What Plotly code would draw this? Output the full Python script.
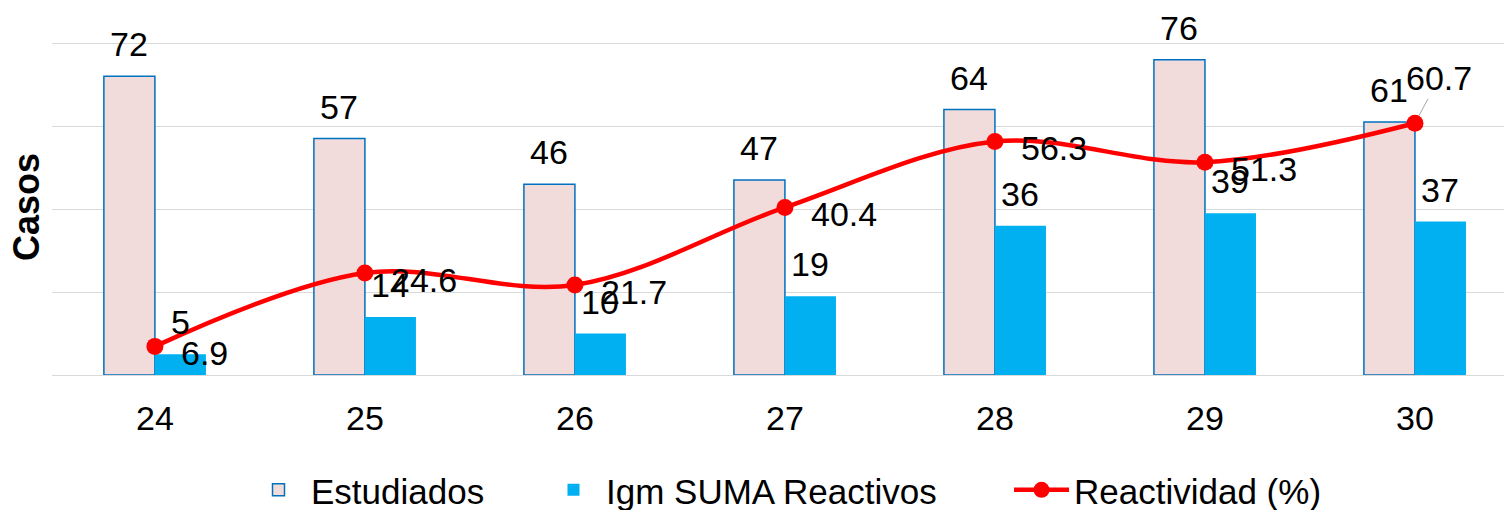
import plotly.graph_objects as go

semanas = ["24", "25", "26", "27", "28", "29", "30"]
estudiados = [72, 57, 46, 47, 64, 76, 61]
igm_reactivos = [5, 14, 10, 19, 36, 39, 37]
reactividad = [6.9, 24.6, 21.7, 40.4, 56.3, 51.3, 60.7]

FONT = "Liberation Sans, Arial, sans-serif"
FS = 34
W, H = 1504, 510

fig = go.Figure()

fig.add_trace(go.Bar(
    x=semanas, y=estudiados, name="Estudiados", legend="legend",
    marker=dict(color="#F2DCDB", line=dict(color="#0070C0", width=1.5)),
))
fig.add_trace(go.Bar(
    x=semanas, y=igm_reactivos, name="Igm SUMA Reactivos", legend="legend2",
    marker=dict(color="#00B0F0", line=dict(color="#00B0F0", width=0)),
))
fig.add_trace(go.Scatter(
    x=semanas, y=reactividad, name="Reactividad (%)", yaxis="y2", legend="legend3",
    mode="lines+markers",
    line=dict(color="#FF0000", width=4.5, shape="spline", smoothing=1),
    marker=dict(color="#FF0000", size=17),
    cliponaxis=False,
))

txt_font = dict(size=FS, color="black", family=FONT)

# bar value labels (outside end); x given as category index
for i, v in enumerate(estudiados):
    fig.add_annotation(x=i, y=v, text=str(v), showarrow=False,
                       xshift=-25.5, yshift=11, yanchor="bottom", font=txt_font)
for i, v in enumerate(igm_reactivos):
    fig.add_annotation(x=i, y=v, text=str(v), showarrow=False,
                       xshift=25.5, yshift=11, yanchor="bottom", font=txt_font)

# line value labels (right of point)
n = len(reactividad)
for i, v in enumerate(reactividad[:-1]):
    fig.add_annotation(x=i, y=v, yref="y2", text=str(v), showarrow=False,
                       xanchor="left", xshift=24, yshift=-7, font=txt_font)
fig.add_annotation(
    x=n - 1, y=reactividad[-1], yref="y2", text=str(reactividad[-1]),
    showarrow=True, arrowhead=0, arrowwidth=1, arrowcolor="#A6A6A6",
    ax=24, ay=-45, standoff=8, font=txt_font,
)

leg_common = dict(orientation="h", xref="container", yref="container",
                  xanchor="left", yanchor="middle", y=0.039,
                  font=dict(size=35, family=FONT), itemwidth=55,
                  bgcolor="rgba(0,0,0,0)", borderwidth=0)

fig.update_layout(
    width=W, height=H,
    margin=dict(l=52, r=0, t=39, b=135),
    paper_bgcolor="white", plot_bgcolor="white",
    font=dict(family=FONT, size=FS, color="black"),
    barmode="group", bargap=0.514, bargroupgap=0,
    xaxis=dict(type="category", range=[-0.49, 6.424], automargin=False,
               ticks="outside", ticklen=13, tickcolor="rgba(0,0,0,0)",
               tickfont=dict(size=FS), showgrid=False, showline=False),
    yaxis=dict(range=[0, 81], tickvals=[0, 20, 40, 60, 80], showticklabels=False,
               automargin=False,
               showgrid=True, gridcolor="#D9D9D9", gridwidth=1,
               zeroline=True, zerolinecolor="#D9D9D9", zerolinewidth=1,
               title=dict(text="<b>Casos</b>", font=dict(size=36), standoff=0)),
    yaxis2=dict(range=[0, 81], overlaying="y", side="right",
                showticklabels=False, showgrid=False, zeroline=False, automargin=False),
    legend=dict(x=246 / W, **leg_common),
    legend2=dict(x=541 / W, **leg_common),
    legend3=dict(x=1009 / W, **leg_common),
    showlegend=True,
)

fig.write_html("out.html", config={"displayModeBar": False},
               post_script="document.body.style.margin='0';")
